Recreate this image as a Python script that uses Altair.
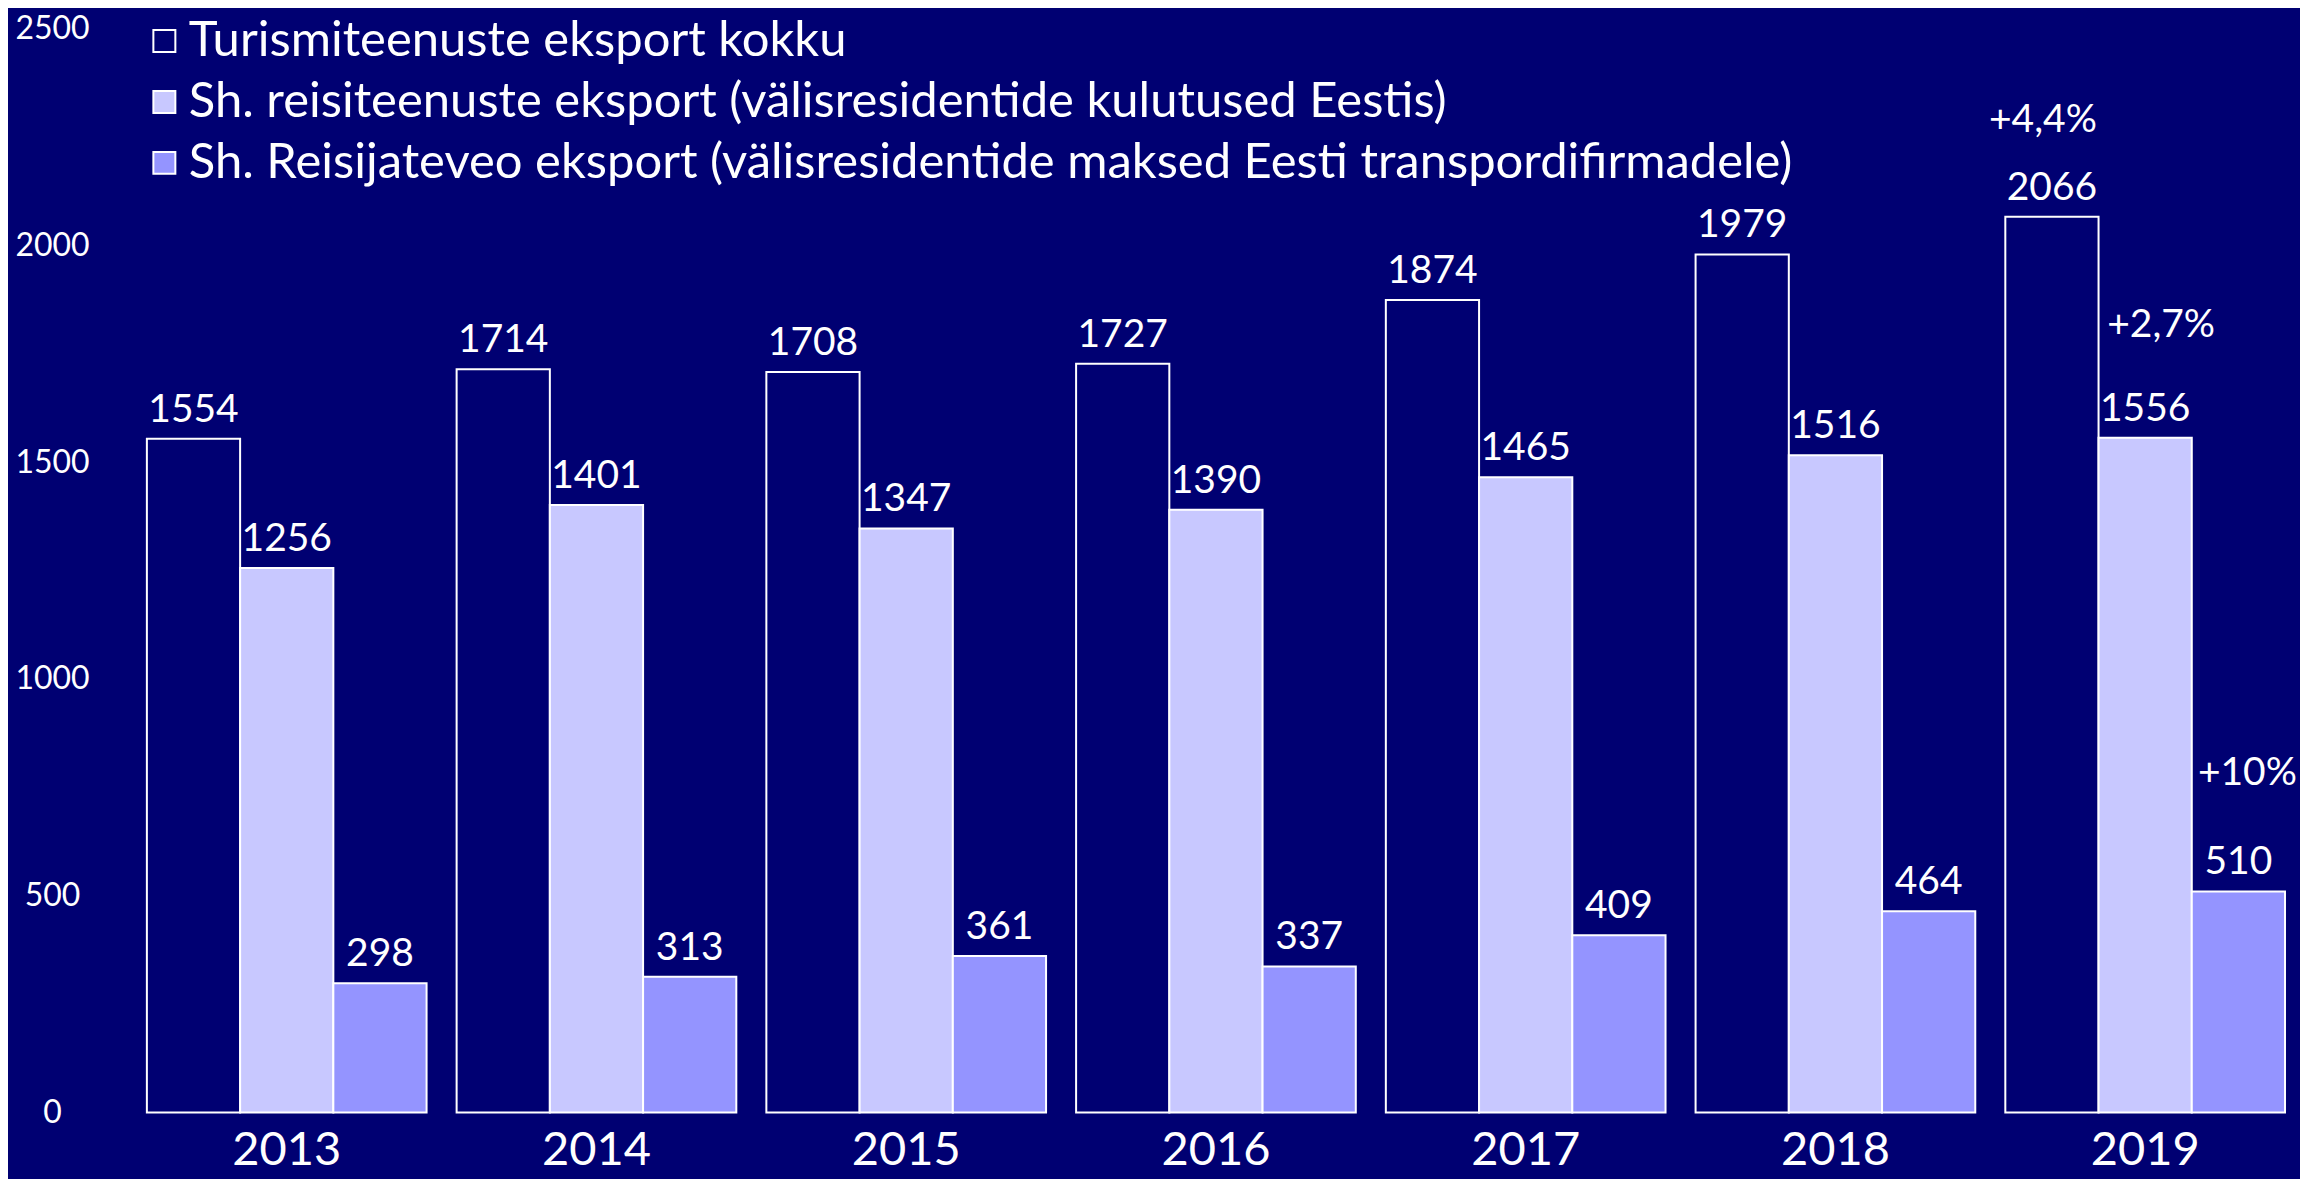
import altair as alt
import pandas as pd

years = ["2013", "2014", "2015", "2016", "2017", "2018", "2019"]
series = [
    "Turismiteenuste eksport kokku",
    "Sh. reisiteenuste eksport (välisresidentide kulutused Eestis)",
    "Sh. Reisijateveo eksport (välisresidentide maksed Eesti transpordifirmadele)",
]
total = [1554, 1714, 1708, 1727, 1874, 1979, 2066]
travel = [1256, 1401, 1347, 1390, 1465, 1516, 1556]
transport = [298, 313, 361, 337, 409, 464, 510]
ann_series = [series[0], series[1], series[2]]
ann_values = [2066, 1556, 510]
ann_texts = ["+4,4%", "+2,7%", "+10%"]
ann_year = "2019"

colors = ["#000072", "#C8C8FF", "#9494FF"]
BG = "#000072"
FONT = "Lato"

rows = []
for s, vals in zip(series, [total, travel, transport]):
    for y, v in zip(years, vals):
        rows.append({"year": y, "series": s, "value": v})
df = pd.DataFrame(rows)

x = alt.X("year:N", sort=years, title=None,
          scale=alt.Scale(paddingInner=0.097, paddingOuter=0),
          axis=alt.Axis(labelAngle=0, labelFontSize=47, labelColor="white",
                        labelFont=FONT, domain=False, ticks=False, labelPadding=15))
y = alt.Y("value:Q", title=None,
          scale=alt.Scale(domain=[0, 2500], nice=False),
          axis=alt.Axis(values=[0, 500, 1000, 1500, 2000, 2500], labelFontSize=32,
                        format="d",
                        labelColor="white", labelFont=FONT, domain=False, ticks=False,
                        grid=False, labelAlign="center", labelPadding=95))
xo = alt.XOffset("series:N", sort=series)

base = alt.Chart(df)
bars = base.mark_bar(stroke="white", strokeWidth=2).encode(
    x=x, y=y, xOffset=xo,
    color=alt.Color("series:N", sort=series,
                    scale=alt.Scale(domain=series, range=colors),
                    legend=alt.Legend(title=None, orient="none", legendX=-7, legendY=-12,
                                      direction="vertical", labelColor="white",
                                      labelFontSize=49, labelFont=FONT, labelLimit=0,
                                      symbolType="square", symbolSize=484,
                                      symbolStrokeColor="white", symbolStrokeWidth=2,
                                      rowPadding=11, labelOffset=0, padding=0)),
)
labels = base.mark_text(color="white", fontSize=39, font=FONT, baseline="alphabetic",
                        dy=-17).encode(
    x=x, y=y, xOffset=xo, text=alt.Text("value:Q", format="d"))

layers = [bars, labels]
dys = [-85, -101, -106]
dxs = [-9, 16, 9]
for s, v, t, dy, dx in zip(ann_series, ann_values, ann_texts, dys, dxs):
    adf = pd.DataFrame([{"year": ann_year, "series": s, "value": v, "label": t}])
    layers.append(
        alt.Chart(adf).mark_text(color="white", fontSize=39, font=FONT,
                                 baseline="alphabetic", dy=dy, dx=dx).encode(
            x=x, y=y, xOffset=xo, text="label:N")
    )

chart = alt.layer(*layers).properties(
    width=2140, height=1085,
    autosize=alt.AutoSizeParams(type="none"),
    padding={"left": 139, "top": 20, "right": 15, "bottom": 66},
    background=BG,
).configure_view(stroke=None)

chart.save("out.html", embed_options={"renderer": "svg", "actions": False})
